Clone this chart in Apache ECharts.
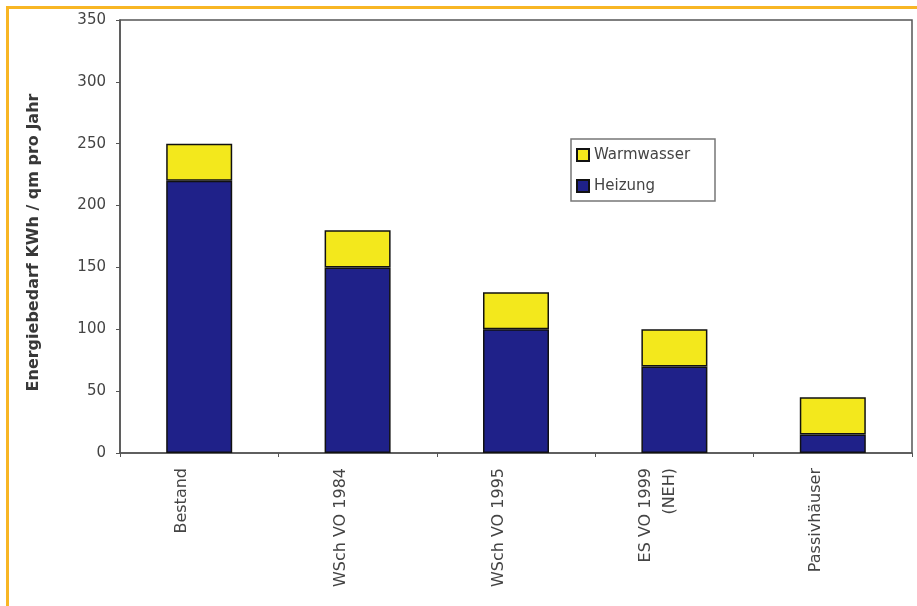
<!DOCTYPE html>
<html><head><meta charset="utf-8">
<script src="https://cdn.jsdelivr.net/npm/echarts@6/dist/echarts.min.js"></script>
<style>html,body{margin:0;padding:0;background:#fff}#c{width:917px;height:606px}</style>
</head><body><div id="c"></div>
<script>
const categories = ['Bestand', 'WSch VO 1984', 'WSch VO 1995', 'ES VO 1999\n(NEH)', 'Passivhäuser'];
const heizung = [220, 150, 100, 70, 15];
const warmwasser = [30, 30, 30, 30, 30];
const yTicks = { min: 0, max: 350, interval: 50 };

const FONT = 'DejaVu Sans';

const chart = echarts.init(document.getElementById('c'));
chart.setOption({
  animation: false,
  backgroundColor: '#fff',
  graphic: [{
    type: 'rect', left: 5, top: 5, silent: true,
    shape: { x: 0, y: 0, width: 960, height: 700 },
    style: { fill: 'none', stroke: '#f8b624', lineWidth: 3 }
  }],
  grid: { left: 120, right: 5, top: 20, bottom: 153, show: true, borderColor: '#555', borderWidth: 1.5 },
  legend: {
    orient: 'vertical', left: 571, top: 139,
    data: ['Warmwasser', 'Heizung'],
    itemWidth: 12, itemHeight: 12, itemGap: 15,
    padding: [8, 5, 7, 5],
    borderColor: '#777', borderWidth: 1.5,
    textStyle: { fontFamily: FONT, fontSize: 15, color: '#444', lineHeight: 16, width: 116 },
    icon: 'rect'
  },
  xAxis: {
    type: 'category', data: categories,
    axisLine: { lineStyle: { color: '#555', width: 1.5 } },
    axisTick: { show: true, length: 4, lineStyle: { color: '#555' } },
    axisLabel: {
      rotate: 90, margin: 15,
      formatter: v => v.split('\n').map(l => '{t|' + l + '}').join('\n') + '\n{g| }',
      rich: {
        t: { fontFamily: FONT, fontSize: 16, color: '#444', lineHeight: 24 },
        g: { fontSize: 1, lineHeight: 34 }
      }
    }
  },
  yAxis: {
    type: 'value', min: yTicks.min, max: yTicks.max, interval: yTicks.interval,
    name: 'Energiebedarf KWh / qm pro Jahr', nameLocation: 'middle', nameGap: 78,
    nameTextStyle: { fontFamily: FONT, fontSize: 16, fontWeight: 'bold', color: '#383838', padding: [0, 12, 0, 0] },
    axisLine: { show: true, lineStyle: { color: '#555', width: 1.5 } },
    axisTick: { show: true, length: 4, lineStyle: { color: '#555' } },
    splitLine: { show: false },
    axisLabel: { margin: 14, fontFamily: FONT, fontSize: 15, color: '#444' }
  },
  series: [
    { name: 'Heizung', type: 'bar', stack: 't', data: heizung, barWidth: 66,
      itemStyle: { color: '#1f2189', borderColor: '#111', borderWidth: 1.5 } },
    { name: 'Warmwasser', type: 'bar', stack: 't', data: warmwasser, barWidth: 66,
      itemStyle: { color: '#f3e81c', borderColor: '#111', borderWidth: 1.5 } }
  ]
});
</script></body></html>
